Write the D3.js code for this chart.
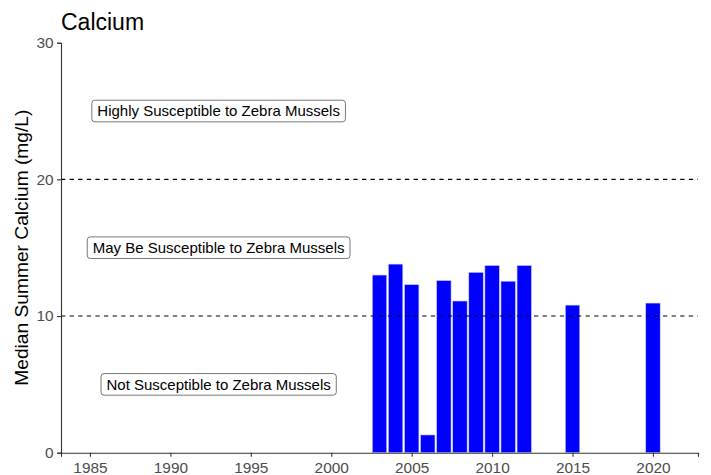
<!DOCTYPE html>
<html>
<head>
<meta charset="utf-8">
<script src="https://cdn.jsdelivr.net/npm/d3@7"></script>
<style>
  body { margin: 0; background: white; }
  text { font-family: "Liberation Sans", Arial, sans-serif; }
</style>
</head>
<body>
<div id="chart"></div>
<script>
// data
const years = [2003, 2004, 2005, 2006, 2007, 2008, 2009, 2010, 2011, 2012, 2015, 2020];
const calcium = [13.0, 13.8, 12.3, 1.3, 12.6, 11.1, 13.2, 13.7, 12.55, 13.7, 10.8, 10.95];
const thresholds = [10, 20];
const zoneLabels = ["Not Susceptible to Zebra Mussels", "May Be Susceptible to Zebra Mussels", "Highly Susceptible to Zebra Mussels"];
const zoneY = [5, 15, 25];
const zoneX = 1993;
const xTicks = [1985, 1990, 1995, 2000, 2005, 2010, 2015, 2020];
const yTicks = [0, 10, 20, 30];

const width = 711, height = 475;
const margin = {top: 42.7, right: 13, bottom: 22.3, left: 61};

const svg = d3.select("#chart").append("svg")
  .attr("width", width)
  .attr("height", height);

svg.append("rect")
  .attr("width", "100%")
  .attr("height", "100%")
  .attr("fill", "white");

// limits 1985-2021 with the usual 5% expansion
const x = d3.scaleLinear()
  .domain([1983.2, 2022.8])
  .range([margin.left, width - margin.right]);

const y = d3.scaleLinear()
  .domain([0, 30])
  .range([height - margin.bottom, margin.top]);

const barW = x(2003.45) - x(2002.55);

// bars
svg.append("g")
  .selectAll("rect")
  .data(years)
  .enter()
  .append("rect")
  .attr("x", (d) => x(d) - barW / 2)
  .attr("y", (d, i) => y(calcium[i]))
  .attr("width", barW)
  .attr("height", (d, i) => y(0) - y(calcium[i]))
  .attr("fill", "#0000ff")
  .attr("stroke", "#d0d0ff")
  .attr("stroke-width", 0.6);

// threshold lines
svg.append("g")
  .selectAll("line")
  .data(thresholds)
  .enter()
  .append("line")
  .attr("x1", x.range()[0])
  .attr("x2", x.range()[1])
  .attr("y1", d => y(d))
  .attr("y2", d => y(d))
  .attr("stroke", "black")
  .attr("stroke-width", 1.1)
  .attr("stroke-dasharray", "4.3,4.3");

// zone labels with rounded boxes
const lab = svg.append("g")
  .selectAll("g")
  .data(zoneLabels)
  .enter()
  .append("g")
  .attr("transform", (d, i) => `translate(${x(zoneX)},${y(zoneY[i])})`);

lab.append("text")
  .attr("text-anchor", "middle")
  .attr("dy", "0.36em")
  .attr("font-size", 15)
  .attr("fill", "black")
  .text(d => d);

lab.each(function () {
  const g = d3.select(this);
  const bb = g.select("text").node().getBBox();
  g.insert("rect", "text")
    .attr("x", bb.x - 5.5)
    .attr("y", -10.8)
    .attr("width", bb.width + 11)
    .attr("height", 21.6)
    .attr("rx", 3)
    .attr("fill", "white")
    .attr("stroke", "#555")
    .attr("stroke-width", 0.8);
});

// axes
const xAxis = svg.append("g")
  .attr("transform", `translate(0,${y(0)})`)
  .call(d3.axisBottom(x).tickValues(xTicks).tickFormat(d3.format("d")).tickSize(4).tickPadding(5.5));

const yAxis = svg.append("g")
  .attr("transform", `translate(${margin.left},0)`)
  .call(d3.axisLeft(y).tickValues(yTicks).tickSize(4).tickPadding(3.5));

[xAxis, yAxis].forEach(ax => {
  ax.select(".domain").attr("stroke", "#333").attr("stroke-width", 1.1);
  ax.selectAll(".tick line").attr("stroke", "#333").attr("stroke-width", 1.1);
  ax.selectAll(".tick text")
    .attr("fill", "#4d4d4d")
    .attr("font-size", 15.4)
    .attr("font-family", "Liberation Sans, Arial, sans-serif");
});

// title
svg.append("text")
  .attr("x", 61)
  .attr("y", 30)
  .attr("font-size", 23)
  .attr("fill", "black")
  .text("Calcium");

// y label
svg.append("text")
  .attr("transform", `translate(28,${(y(0) + y(30)) / 2}) rotate(-90)`)
  .attr("text-anchor", "middle")
  .attr("font-size", 19.2)
  .attr("fill", "black")
  .text("Median Summer Calcium (mg/L)");
</script>
</body>
</html>
